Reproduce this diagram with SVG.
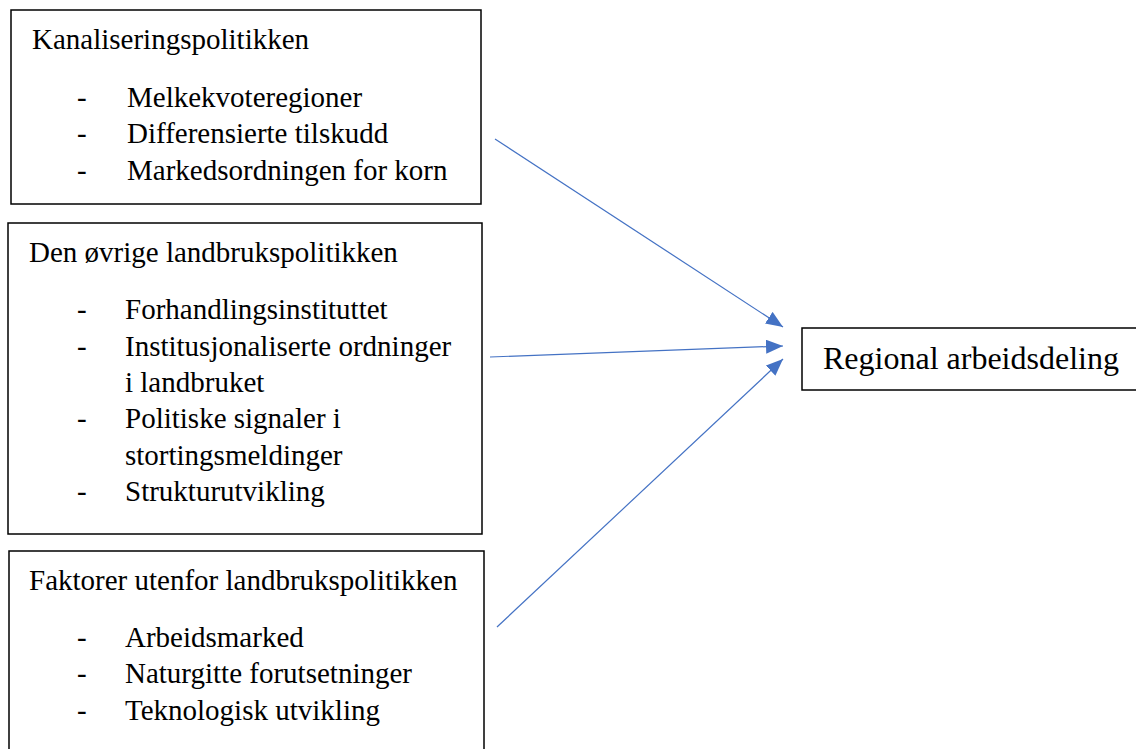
<svg xmlns="http://www.w3.org/2000/svg" width="1136" height="749" viewBox="0 0 1136 749">
<style>
.box{fill:#fff;stroke:#000;stroke-width:1.5}
.t{font-family:"Liberation Serif","Times New Roman",serif;font-size:29px;fill:#000}
.big{font-size:32px}
.conn{stroke:#4472C4;stroke-width:1.2;fill:none}
</style>
<defs>
<marker id="ah" markerUnits="userSpaceOnUse" markerWidth="18" markerHeight="14" refX="17" refY="7" orient="auto">
<path d="M0,0 L17,7 L0,14 Z" fill="#4472C4"/>
</marker>
</defs>
<rect width="1136" height="749" fill="#fff"/>
<g id="n1">
<rect class="box" x="11" y="10" width="470" height="194"/>
<text class="t" x="32" y="49">Kanaliseringspolitikken</text>
<text class="t" x="77" y="107">-</text><text class="t" x="127" y="107">Melkekvoteregioner</text>
<text class="t" x="77" y="143">-</text><text class="t" x="127" y="143">Differensierte tilskudd</text>
<text class="t" x="77" y="180">-</text><text class="t" x="127" y="180">Markedsordningen for korn</text>
</g>
<g id="n2">
<rect class="box" x="8" y="223" width="474" height="311"/>
<text class="t" x="29" y="262">Den øvrige landbrukspolitikken</text>
<text class="t" x="77" y="319">-</text><text class="t" x="125" y="319">Forhandlingsinstituttet</text>
<text class="t" x="77" y="356">-</text><text class="t" x="125" y="356">Institusjonaliserte ordninger</text>
<text class="t" x="125" y="392">i landbruket</text>
<text class="t" x="77" y="428">-</text><text class="t" x="125" y="428">Politiske signaler i</text>
<text class="t" x="125" y="465">stortingsmeldinger</text>
<text class="t" x="77" y="501">-</text><text class="t" x="125" y="501">Strukturutvikling</text>
</g>
<g id="n3">
<rect class="box" x="9" y="551" width="475" height="220"/>
<text class="t" x="29" y="590">Faktorer utenfor landbrukspolitikken</text>
<text class="t" x="77" y="647">-</text><text class="t" x="125" y="647">Arbeidsmarked</text>
<text class="t" x="77" y="683">-</text><text class="t" x="125" y="683">Naturgitte forutsetninger</text>
<text class="t" x="77" y="720">-</text><text class="t" x="125" y="720">Teknologisk utvikling</text>
</g>
<g id="n4">
<rect class="box" x="802" y="328" width="345" height="62"/>
<text class="t big" x="823" y="369">Regional arbeidsdeling</text>
</g>
<g id="connectors">
<line class="conn" x1="495" y1="139" x2="783" y2="327" marker-end="url(#ah)"/>
<line class="conn" x1="490" y1="357" x2="783" y2="346" marker-end="url(#ah)"/>
<line class="conn" x1="497" y1="627" x2="783" y2="359" marker-end="url(#ah)"/>
</g>
</svg>
